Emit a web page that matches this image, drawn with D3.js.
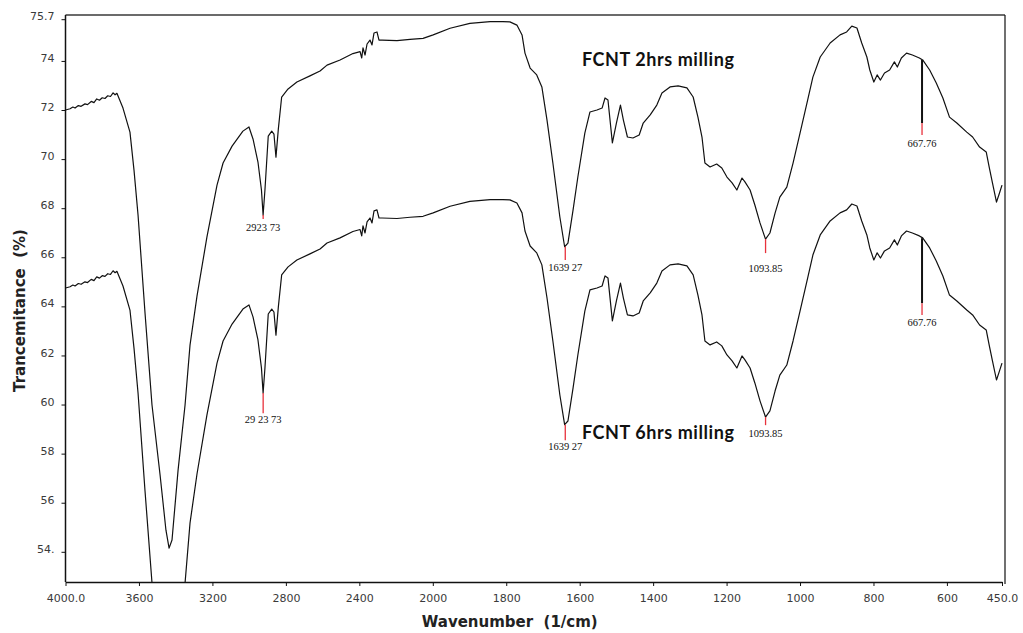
<!DOCTYPE html>
<html><head><meta charset="utf-8">
<script src="https://cdn.jsdelivr.net/npm/d3@7"></script>
<style>body{margin:0;background:#fff}svg{display:block}</style>
</head><body>
<svg id="c" width="1023" height="633"></svg>
<script>
// ---- data (wavenumber 1/cm, transmittance %) ----
const fcnt2h = [
[4000,72.00],[3975,72.05],[3960,72.12],[3948,72.08],[3930,72.18],[3915,72.15],[3894,72.25],[3880,72.22],[3860,72.35],[3845,72.30],[3830,72.45],[3815,72.40],[3800,72.50],[3785,72.47],[3770,72.58],[3755,72.55],[3741,72.70],[3730,72.62],[3720,72.68],
[3687,72.08],[3649,71.10],[3627,69.55],[3605,67.72],[3567,63.73],[3529,59.98],[3485,57.13],[3453,54.88],[3436,54.15],[3420,54.48],[3387,57.33],[3349,59.98],[3322,62.42],[3284,64.42],[3230,66.82],[3175,68.94],[3142,69.84],[3093,70.53],[3034,71.14],[3001,71.31],[2979,70.82],[2952,69.88],[2933,68.74],[2924,67.72],[2914,68.74],[2896,70.94],[2877,71.14],[2865,71.02],[2854,70.08],[2841,71.23],[2823,72.53],[2788,72.86],[2740,73.14],[2669,73.39],[2614,73.59],[2576,73.83],[2505,74.04],[2435,74.30],[2396,74.38],[2387,74.12],[2380,74.53],[2369,74.24],[2358,74.69],[2342,74.85],[2331,74.65],[2320,75.14],[2304,75.18],[2293,74.85],[2276,74.85],[2195,74.83],[2124,74.88],[2053,74.92],[1999,75.06],[1953,75.33],[1899,75.53],[1844,75.60],[1809,75.60],[1790,75.59],[1771,75.46],[1757,75.06],[1749,74.32],[1735,73.71],[1717,73.43],[1703,72.94],[1689,71.59],[1673,69.84],[1654,67.64],[1641,66.43],[1632,66.58],[1618,67.93],[1605,69.27],[1586,71.06],[1572,71.92],[1553,72.00],[1539,72.08],[1531,72.49],[1523,72.41],[1511,70.66],[1500,71.47],[1489,72.20],[1481,71.59],[1470,70.90],[1455,70.86],[1438,70.98],[1427,71.47],[1408,71.80],[1390,72.20],[1376,72.69],[1354,72.94],[1332,72.98],[1308,72.90],[1291,72.53],[1278,71.71],[1267,70.90],[1259,69.84],[1245,69.68],[1227,69.80],[1213,69.64],[1199,69.27],[1185,69.03],[1172,68.74],[1158,69.23],[1150,69.07],[1136,68.74],[1123,68.13],[1109,67.40],[1094,66.74],[1082,66.99],[1068,67.80],[1055,68.45],[1036,68.86],[1019,69.84],[1000,71.06],[981,72.29],[965,73.34],[945,74.16],[918,74.73],[891,75.06],[873,75.18],[859,75.42],[845,75.34],[832,74.73],[818,74.16],[810,73.63],[799,73.14],[790,73.43],[781,73.22],[770,73.51],[756,73.63],[743,73.96],[735,73.75],[724,74.12],[710,74.32],[694,74.24],[675,74.12],[666,74.04],[647,73.63],[629,73.10],[611,72.49],[593,71.71],[573,71.47],[546,71.10],[530,70.90],[511,70.49],[493,70.29],[485,69.68],[476,69.03],[465,68.25],[457,68.61],[450,68.94]
];
const fcnt6h = [
[4000,64.75],[3975,64.80],[3960,64.87],[3948,64.83],[3930,64.93],[3915,64.90],[3894,65.00],[3880,64.97],[3860,65.10],[3845,65.05],[3830,65.20],[3815,65.15],[3800,65.25],[3785,65.22],[3770,65.33],[3755,65.30],[3741,65.45],[3730,65.37],[3720,65.43],
[3687,64.83],[3649,63.85],[3627,62.30],[3605,60.47],[3567,56.48],[3529,52.73],[3485,49.88],[3453,47.63],[3436,46.90],[3420,47.23],[3387,50.08],[3349,52.73],[3322,55.17],[3284,57.17],[3230,59.57],[3175,61.69],[3142,62.59],[3093,63.28],[3034,63.89],[3001,64.06],[2979,63.57],[2952,62.63],[2933,61.49],[2924,60.47],[2914,61.49],[2896,63.69],[2877,63.89],[2865,63.77],[2854,62.83],[2841,63.98],[2823,65.28],[2788,65.61],[2740,65.89],[2669,66.14],[2614,66.34],[2576,66.58],[2505,66.79],[2435,67.05],[2396,67.13],[2387,66.87],[2380,67.28],[2369,66.99],[2358,67.44],[2342,67.60],[2331,67.40],[2320,67.89],[2304,67.93],[2293,67.60],[2276,67.60],[2195,67.58],[2124,67.63],[2053,67.67],[1999,67.81],[1953,68.08],[1899,68.28],[1844,68.35],[1809,68.35],[1790,68.34],[1771,68.21],[1757,67.81],[1749,67.07],[1735,66.46],[1717,66.18],[1703,65.69],[1689,64.34],[1673,62.59],[1654,60.39],[1641,59.18],[1632,59.33],[1618,60.68],[1605,62.02],[1586,63.81],[1572,64.67],[1553,64.75],[1539,64.83],[1531,65.24],[1523,65.16],[1511,63.41],[1500,64.22],[1489,64.95],[1481,64.34],[1470,63.65],[1455,63.61],[1438,63.73],[1427,64.22],[1408,64.55],[1390,64.95],[1376,65.44],[1354,65.69],[1332,65.73],[1308,65.65],[1291,65.28],[1278,64.46],[1267,63.65],[1259,62.59],[1245,62.43],[1227,62.55],[1213,62.39],[1199,62.02],[1185,61.78],[1172,61.49],[1158,61.98],[1150,61.82],[1136,61.49],[1123,60.88],[1109,60.15],[1094,59.49],[1082,59.74],[1068,60.55],[1055,61.20],[1036,61.61],[1019,62.59],[1000,63.81],[981,65.04],[965,66.09],[945,66.91],[918,67.48],[891,67.81],[873,67.93],[859,68.17],[845,68.09],[832,67.48],[818,66.91],[810,66.38],[799,65.89],[790,66.18],[781,65.97],[770,66.26],[756,66.38],[743,66.71],[735,66.50],[724,66.87],[710,67.07],[694,66.99],[675,66.87],[666,66.79],[647,66.38],[629,65.85],[611,65.24],[593,64.46],[573,64.22],[546,63.85],[530,63.65],[511,63.24],[493,63.04],[485,62.43],[476,61.78],[465,61.00],[457,61.36],[450,61.69]
];
const xTickValues = [4000,3600,3200,2800,2400,2000,1800,1600,1400,1200,1000,800,600,450];
const xTickLabels = ["4000.0","3600","3200","2800","2400","2000","1800","1600","1400","1200","1000","800","600","450.0"];
const yTickValues = [54,56,58,60,62,64,66,68,70,72,74,75.7];
const yTickLabels = ["54.","56","58","60","62","64","66","68","70","72","74","75.7"];

// peak markers
const peakWn = [2923.73, 1639.27, 1093.85, 667.76];
const peakText2h = ["2923 73","1639 27","1093.85","667.76"];
const peakText6h = ["29 23 73","1639 27","1093.85","667.76"];
const peakTop2h = [67.72, 66.43, 66.74, 74.04];
const peakBlackTo2h = [null, null, null, 71.47];
const peakRedTo2h = [67.56, 65.89, 66.17, 70.98];
const peakLabel2h = [67.23, 65.60, 65.56, 70.66];
const peakTop6h = [60.47, 59.18, 59.49, 66.78];
const peakBlackTo6h = [null, null, null, 64.13];
const peakRedTo6h = [59.65, 58.55, 59.16, 63.65];
const peakLabel6h = [59.41, 58.31, 58.84, 63.36];

const seriesNames = ["FCNT 2hrs milling", "FCNT 6hrs milling"];
const seriesNameAt = [[1594, 74.04], [1594, 58.85]];

// ---- drawing ----
const svg = d3.select("#c");
const W = 1023, H = 633;
const x = d3.scaleLinear().domain([4000, 2000, 450]).range([65.5, 432.8, 1002]);
const y = d3.scaleLinear().domain([52.77, 75.7]).range([582, 19.2]);
const plotTop = 15, plotRight = 1005;

svg.append("rect").attr("width", W).attr("height", H).attr("fill", "#fff");

svg.append("defs").append("clipPath").attr("id", "clip")
  .append("rect").attr("x", x(4000)).attr("y", plotTop)
  .attr("width", plotRight - x(4000)).attr("height", y(52.77) - plotTop);

// frame
svg.append("line").attr("x1", x(4000)).attr("x2", plotRight).attr("y1", plotTop).attr("y2", plotTop)
  .attr("stroke", "#6b6b6b").attr("stroke-width", 2);
svg.append("line").attr("x1", plotRight).attr("x2", plotRight).attr("y1", plotTop).attr("y2", y(52.77) + 2)
  .attr("stroke", "#111").attr("stroke-width", 1.2);

const tickFont = "'DejaVu Sans', Verdana, sans-serif";

// x axis
const xAxis = d3.axisBottom(x).tickValues(xTickValues)
  .tickFormat((d, i) => xTickLabels[i]).tickSizeInner(4).tickSizeOuter(0);
const gx = svg.append("g").attr("transform", `translate(0,${y(52.77)})`).call(xAxis);
gx.select(".domain").attr("stroke", "#111").attr("stroke-width", 1.5);
gx.selectAll(".tick line").attr("stroke", "#111");
gx.selectAll(".tick text").attr("font-family", tickFont).attr("font-size", 11)
  .attr("fill", "#3a3a3a").attr("y", 12);

// y axis
const yAxis = d3.axisLeft(y).tickValues(yTickValues)
  .tickFormat((d, i) => yTickLabels[i]).tickSizeInner(4).tickSizeOuter(0);
const gy = svg.append("g").attr("transform", `translate(${x(4000)},0)`).call(yAxis);
gy.select(".domain").attr("stroke", "#111").attr("stroke-width", 1.5)
  .attr("d", `M0,${plotTop}V${y(52.77)}`);
gy.selectAll(".tick line").attr("stroke", "#111");
gy.selectAll(".tick text").attr("font-family", tickFont).attr("font-size", 11)
  .attr("fill", "#3a3a3a").attr("x", -11).attr("dy", "0.05em");

// axis titles
svg.append("text").attr("x", (x(4000) + x(450)) / 2 - 24).attr("y", 627)
  .attr("text-anchor", "middle").attr("font-family", tickFont).attr("font-weight", "bold")
  .attr("font-size", 15).attr("fill", "#222").attr("xml:space", "preserve")
  .text("Wavenumber  (1/cm)");
svg.append("text").attr("transform", `translate(25,${(y(52.77) + plotTop) / 2 + 12}) rotate(-90)`)
  .attr("text-anchor", "middle").attr("font-family", tickFont).attr("font-weight", "bold")
  .attr("font-size", 15).attr("fill", "#222").attr("xml:space", "preserve")
  .text("Trancemitance  (%)");

// curves
const line = d3.line().x(d => x(d[0])).y(d => y(d[1]));
const gc = svg.append("g").attr("clip-path", "url(#clip)");
[fcnt2h, fcnt6h].forEach(s => {
  gc.append("path").datum(s).attr("d", line).attr("fill", "none")
    .attr("stroke", "#111").attr("stroke-width", 1.2).attr("stroke-linejoin", "round");
});

// peak markers
function drawPeaks(tops, blackTo, redTo, labelAt, texts) {
  peakWn.forEach((wn, i) => {
    const px = x(wn);
    let start = tops[i];
    if (blackTo[i] !== null) {
      svg.append("line").attr("x1", px).attr("x2", px).attr("y1", y(start)).attr("y2", y(blackTo[i]))
        .attr("stroke", "#111").attr("stroke-width", 2);
      start = blackTo[i];
    }
    svg.append("line").attr("x1", px).attr("x2", px).attr("y1", y(start)).attr("y2", y(redTo[i]))
      .attr("stroke", "#e8323c").attr("stroke-width", 1.3);
    svg.append("text").attr("x", px).attr("y", y(labelAt[i])).attr("dy", "0.35em")
      .attr("text-anchor", "middle").attr("font-family", "'Liberation Serif', 'Times New Roman', serif")
      .attr("font-size", 10.5).attr("fill", "#111").text(texts[i]);
  });
}
drawPeaks(peakTop2h, peakBlackTo2h, peakRedTo2h, peakLabel2h, peakText2h);
drawPeaks(peakTop6h, peakBlackTo6h, peakRedTo6h, peakLabel6h, peakText6h);

// series names
seriesNames.forEach((n, i) => {
  svg.append("text").attr("x", x(seriesNameAt[i][0])).attr("y", y(seriesNameAt[i][1])).attr("dy", "0.35em")
    .attr("font-family", "Lato, 'Open Sans', sans-serif").attr("font-weight", "bold")
    .attr("font-size", 18).attr("textLength", 152).attr("lengthAdjust", "spacing")
    .attr("fill", "#111").text(n);
});
</script>
</body></html>
